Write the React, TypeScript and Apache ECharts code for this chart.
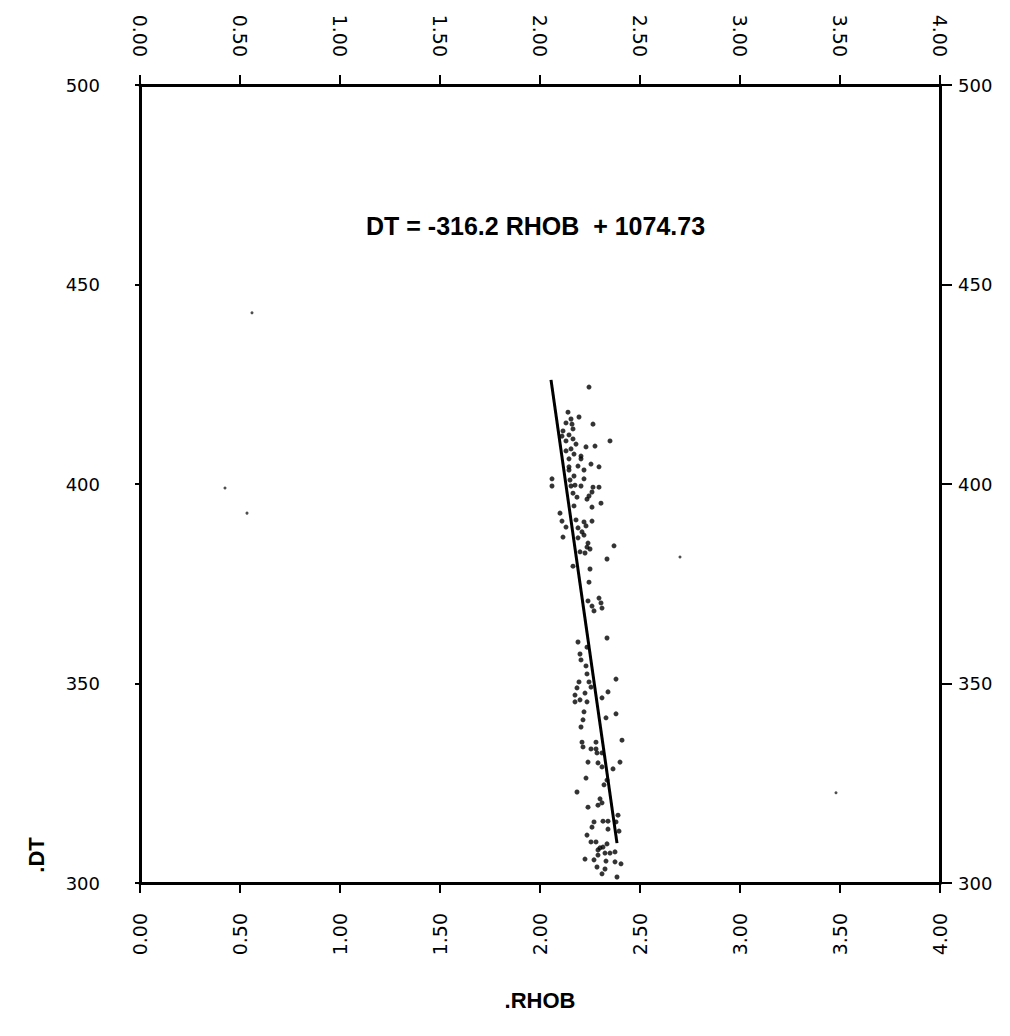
import React, { useEffect, useRef } from "react";
import * as echarts from "echarts";

const xTicks = [0, 0.5, 1, 1.5, 2, 2.5, 3, 3.5, 4];
const yTicks = [300, 350, 400, 450, 500];

const rhob = [
  2.245, 2.14, 2.195, 2.155, 2.13, 2.16, 2.265, 2.165, 2.115, 2.145, 2.11, 2.165, 2.13, 2.35, 2.18, 2.23,
  2.275, 2.155, 2.13, 2.17, 2.205, 2.205, 2.145, 2.255, 2.19, 2.145, 2.295, 2.145, 2.22, 2.17, 2.06, 2.06,
  2.15, 2.22, 2.175, 2.205, 2.155, 2.265, 2.295, 2.26, 2.245, 2.235, 2.165, 2.185, 2.17, 2.26, 2.305,
  2.1, 2.11, 2.13, 2.18, 2.22, 2.26, 2.23, 2.19, 2.21, 2.115, 2.22, 2.19, 2.24, 2.235, 2.25, 2.37, 2.2,
  2.225, 2.335, 2.165, 2.25, 2.245, 2.24, 2.295, 2.26, 2.305, 2.31, 2.27,
  2.19, 2.335, 2.235, 2.2, 2.205, 2.23, 2.235, 2.38, 2.195, 2.245, 2.255, 2.185, 2.34, 2.225, 2.175, 2.31,
  2.2, 2.175, 2.235, 2.22, 2.38, 2.33, 2.215, 2.205, 2.41, 2.21, 2.28, 2.215, 2.255, 2.28, 2.285, 2.31,
  2.24, 2.29, 2.31, 2.4, 2.365, 2.23, 2.335, 2.32, 2.185, 2.3, 2.31, 2.29, 2.24, 2.39, 2.27, 2.315, 2.34,
  2.26, 2.38, 2.34, 2.395, 2.235, 2.255, 2.28, 2.335, 2.3, 2.315, 2.29, 2.35, 2.375, 2.325, 2.29, 2.225,
  2.27, 2.33, 2.375, 2.405, 2.285, 2.325, 2.31, 2.385,
];
const dt = [
  424.3, 418.0, 416.8, 416.3, 415.3, 415.0, 415.0, 413.8, 413.3, 412.3, 412.0, 411.3, 410.8, 410.8, 410.0, 409.3,
  409.5, 408.8, 408.3, 407.5, 407.0, 406.3, 406.3, 405.0, 404.5, 404.3, 404.3, 403.5, 403.5, 402.0, 401.3, 399.5,
  401.0, 401.3, 399.7, 399.5, 399.5, 399.2, 399.2, 398.0, 397.0, 396.2, 397.7, 396.7, 394.5, 394.2, 395.2,
  392.7, 390.7, 389.2, 391.0, 390.5, 390.7, 389.5, 389.0, 388.0, 386.7, 387.2, 386.5, 385.2, 384.2, 383.7, 384.5, 383.0,
  382.7, 381.2, 379.4, 378.7, 375.4, 370.7, 371.4, 369.4, 370.2, 368.9, 368.2,
  360.4, 361.4, 359.1, 357.4, 355.9, 354.4, 352.4, 351.1, 350.4, 350.4, 349.1, 348.9, 347.9, 347.6, 347.1, 346.4,
  345.9, 345.4, 345.4, 342.9, 342.4, 341.4, 340.9, 339.1, 335.8, 335.3, 335.3, 334.1, 333.6, 333.6, 332.6, 332.6,
  330.3, 330.1, 329.1, 330.3, 328.6, 326.3, 325.8, 324.6, 322.8, 321.1, 320.1, 319.5, 319.0, 317.0, 315.3, 315.5, 315.5,
  314.0, 315.3, 313.5, 313.0, 312.0, 310.3, 310.3, 309.8, 308.8, 309.0, 308.3, 307.5, 307.8, 307.5, 307.0, 306.0,
  305.8, 305.5, 305.3, 304.8, 304.0, 303.5, 302.3, 301.5,
];

const strayRhob = [0.56, 0.425, 0.535, 2.7, 3.48];
const strayDt = [442.9, 399.0, 392.7, 381.7, 322.6];

const fitRhob = [2.055, 2.385];
const fitDt = [426.1, 310.0];

const equation = "DT = -316.2 RHOB  + 1074.73";
const xName = ".RHOB";
const yName = ".DT";

export default function App() {
  const ref = useRef<HTMLDivElement>(null);
  useEffect(() => {
    document.body.style.margin = "0";
    const chart = echarts.init(ref.current!, null, { renderer: "svg" });
    const labelFont = "DejaVu Sans";
    const axisLine = { show: true, onZero: false, lineStyle: { color: "#000", width: 3 } };
    const xCommon = {
      type: "value",
      min: 0,
      max: 4,
      interval: 0.5,
      splitLine: { show: false },
      axisLine,
      axisTick: { show: true, inside: false, length: 10, lineStyle: { color: "#000", width: 2 } },
      axisLabel: {
        rotate: 90,
        color: "#000",
        fontSize: 19,
        fontFamily: labelFont,
        formatter: (v: number) => v.toFixed(2),
      },
    };
    const yCommon = {
      type: "value",
      min: 300,
      max: 500,
      interval: 50,
      splitLine: { show: false },
      axisLine,
      axisLabel: { color: "#000", fontSize: 18, fontFamily: labelFont, formatter: (v: number) => String(v) },
    };
    chart.setOption({
      animation: false,
      backgroundColor: "#fff",
      grid: { left: 140, right: 70, top: 85, bottom: 153, containLabel: false },
      xAxis: [
        { ...xCommon, position: "bottom", axisLabel: { ...xCommon.axisLabel, margin: 30 } },
        { ...xCommon, position: "top", axisLabel: { ...xCommon.axisLabel, margin: 28 } },
      ],
      yAxis: [
        {
          ...yCommon,
          position: "left",
          axisTick: { show: true, length: 5, lineStyle: { color: "#000", width: 2 } },
          axisLabel: { ...yCommon.axisLabel, margin: 40 },
        },
        {
          ...yCommon,
          position: "right",
          axisTick: { show: true, length: 12, lineStyle: { color: "#000", width: 2 } },
          axisLabel: { ...yCommon.axisLabel, margin: 18 },
        },
      ],
      series: [
        {
          type: "scatter",
          xAxisIndex: 0,
          yAxisIndex: 0,
          symbol: "circle",
          symbolSize: 5,
          itemStyle: { color: "#000" },
          data: rhob.map((r, i) => [r, dt[i]]),
          silent: true,
        },
        {
          type: "scatter",
          xAxisIndex: 0,
          yAxisIndex: 0,
          symbol: "circle",
          symbolSize: 3,
          itemStyle: { color: "#222" },
          data: strayRhob.map((r, i) => [r, strayDt[i]]),
          silent: true,
        },
        {
          type: "line",
          xAxisIndex: 0,
          yAxisIndex: 0,
          symbol: "none",
          lineStyle: { color: "#000", width: 3 },
          data: fitRhob.map((r, i) => [r, fitDt[i]]),
          silent: true,
        },
      ],
      graphic: [
        {
          type: "text",
          left: 366,
          top: 213,
          style: {
            text: equation,
            fontSize: 25,
            fontWeight: "bold",
            fontFamily: "Liberation Sans Narrow, Liberation Sans, Arial",
            fill: "#000",
          },
        },
        {
          type: "text",
          x: 540,
          y: 1000,
          style: {
            text: xName,
            fontSize: 22,
            fontWeight: "bold",
            fontFamily: "Liberation Sans, Arial",
            fill: "#000",
            align: "center",
            verticalAlign: "middle",
          },
        },
        {
          type: "text",
          x: 36,
          y: 855,
          rotation: Math.PI / 2,
          style: {
            text: yName,
            fontSize: 22,
            fontWeight: "bold",
            fontFamily: "Liberation Sans, Arial",
            fill: "#000",
            align: "center",
            verticalAlign: "middle",
          },
        },
      ],
    });
    return () => chart.dispose();
  }, []);
  return <div ref={ref} style={{ width: 1010, height: 1036 }} />;
}
